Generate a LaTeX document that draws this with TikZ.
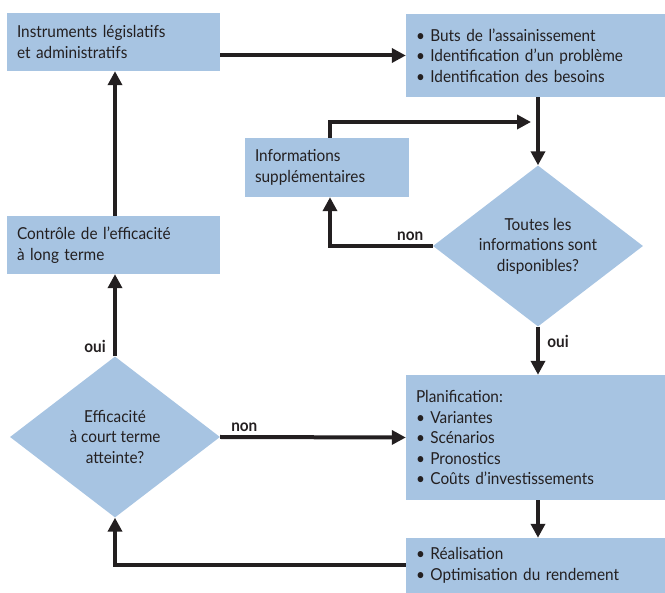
\documentclass[tikz,border=0pt]{standalone}
\usepackage{fontspec}
\setmainfont{Lato}[FakeStretch=0.93]
\usetikzlibrary{arrows.meta,shapes.geometric}

\definecolor{boxblue}{RGB}{167,196,226}
\definecolor{inkdark}{RGB}{35,31,32}

\tikzset{
  flowbox/.style={fill=boxblue, inner xsep=10pt, inner ysep=0pt, align=left,
    text=inkdark, font=\fontsize{16.5}{20.5}\selectfont},
  askbox/.style={diamond, fill=boxblue, inner sep=0pt, align=center, aspect=1.3,
    minimum width=210pt, minimum height=161pt, text=inkdark,
    font=\fontsize{16.5}{20.5}\selectfont},
  flowline/.style={draw=inkdark, line width=4pt,
    -{Triangle[length=14pt,width=14pt]}},
  answer/.style={text=inkdark, font=\fontsize{16.5}{18}\selectfont\bfseries}
}

\begin{document}
\begin{tikzpicture}[x=1pt,y=-1pt]
\useasboundingbox (0,0) rectangle (665,593);

% Drawing the boxes
\node[flowbox, minimum width=213pt, minimum height=58pt, text width=193pt] (instr) at (113.5,42)
  {Instruments législatifs\\et administratifs};
\node[flowbox, minimum width=259pt, minimum height=83pt, text width=239pt] (buts) at (535.5,55.5)
  {• Buts de l’assainissement\\• Identification d’un problème\\• Identification des besoins};
\node[flowbox, minimum width=164pt, minimum height=59pt, text width=144pt] (infos) at (327,167.5)
  {Informations\\supplémentaires};
\node[flowbox, minimum width=213pt, minimum height=58pt, text width=193pt] (controle) at (113.5,245)
  {Contrôle de l’efficacité\\à long terme};
\node[flowbox, minimum width=259pt, minimum height=125pt, text width=239pt] (planif) at (535.5,437.5)
  {Planification:\\• Variantes\\• Scénarios\\• Pronostics\\• Coûts d’investissements};
\node[flowbox, minimum width=259pt, minimum height=55pt, text width=239pt] (realis) at (535.5,565.5)
  {• Réalisation\\• Optimisation du rendement};

% Drawing the two questions
\node[askbox] (toutes) at (538,246) {Toutes les\\informations sont\\disponibles?};
\node[askbox] (court) at (115,437) {Efficacité\\à court terme\\atteinte?};

\coordinate (retour) at (531,122);

% Drawing the connectors
\draw[flowline] (instr.east |- buts.west) -- (buts.west);
\draw[flowline] (toutes.north |- buts.south) -- (toutes.north);
\draw[flowline] ([xshift=3pt]infos.north) |- (retour);
\draw[flowline] (toutes.west) -| ([xshift=3pt]infos.south)
  node[answer, pos=0.11, above] {non};
\draw[flowline] (toutes.south) -- (toutes.south |- planif.north)
  node[answer, pos=0.3, right=4pt] {oui};
\draw[flowline] (toutes.south |- planif.south) -- (toutes.south |- realis.north);
\draw[flowline] (realis.west) -| (court.south);
\draw[flowline] (court.east) -- (planif.west)
  node[answer, pos=0.13, above] {non};
\draw[flowline] (court.north) -- (court.north |- controle.south)
  node[answer, pos=0.12, left=4pt] {oui};
\draw[flowline] (court.north |- controle.north) -- (court.north |- instr.south);
\end{tikzpicture}
\end{document}
